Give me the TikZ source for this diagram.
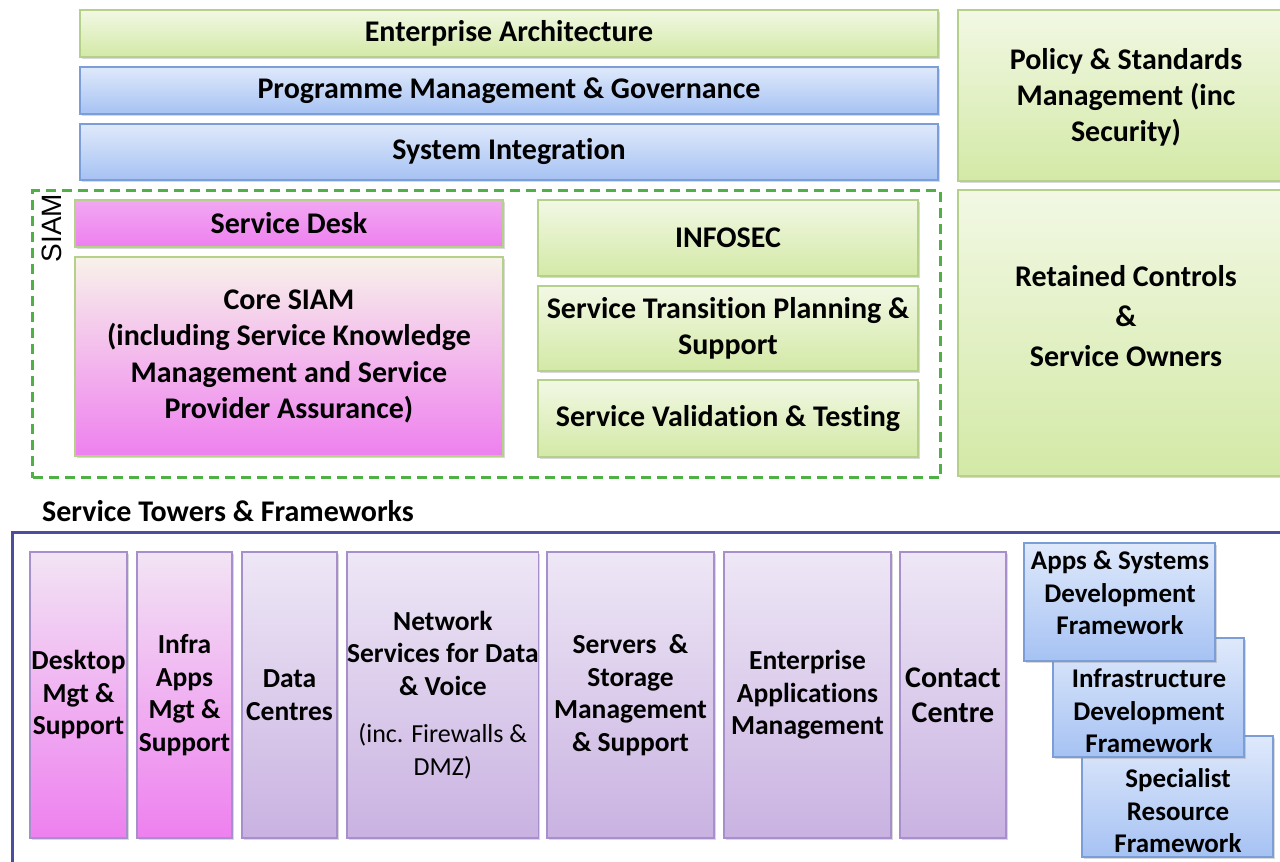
\documentclass[tikz,border=0pt]{standalone}
\usepackage{fontspec}
\setmainfont{Carlito}[Ligatures=NoCommon]
\newfontfamily\labelsans{Liberation Sans}
\usetikzlibrary{shadows}

\definecolor{greentop}{HTML}{F2F8E4}
\definecolor{greenbot}{HTML}{D3E9A6}
\definecolor{greenline}{HTML}{B5D08A}
\definecolor{bluetop}{HTML}{DFE9FB}
\definecolor{bluebot}{HTML}{A6C2F3}
\definecolor{blueline}{HTML}{7C9ED8}
\definecolor{magtop}{HTML}{F2A8F3}
\definecolor{magbot}{HTML}{EE80EF}
\definecolor{coretop}{HTML}{F8F2EA}
\definecolor{coremid}{HTML}{F097F1}
\definecolor{lavtop}{HTML}{EEE7F6}
\definecolor{lavbot}{HTML}{C9B2E1}
\definecolor{lavline}{HTML}{A78FCB}
\definecolor{towmagtop}{HTML}{F2E4F4}
\definecolor{towmagmid}{HTML}{F09AF2}
\definecolor{siamgreen}{HTML}{4FB045}
\definecolor{navy}{HTML}{4B4E9E}

\begin{document}
\begin{tikzpicture}[x=1pt,y=-1pt,
  box/.style={draw, line width=1.1pt, inner sep=0pt, outer sep=0pt,
    anchor=north west, align=center,
    font=\bfseries\fontsize{30}{36.5}\selectfont,
    drop shadow={opacity=0.3, shadow xshift=1.5pt, shadow yshift=-2pt}},
  greenbox/.style={box, draw=greenline, top color=greentop, bottom color=greenbot},
  bluebox/.style={box, draw=blueline, top color=bluetop, bottom color=bluebot},
  deskbox/.style={box, draw=greenline, top color=magtop, bottom color=magbot},
  corebox/.style={box, draw=greenline, top color=coretop, middle color=coremid, bottom color=magbot},
  towerbox/.style={box, draw=lavline, top color=lavtop, bottom color=lavbot,
    font=\bfseries\fontsize{27.5}{32.5}\selectfont},
  magtowerbox/.style={box, draw=lavline, top color=towmagtop, middle color=towmagmid, bottom color=magbot,
    font=\bfseries\fontsize{27.5}{32.5}\selectfont},
  fwbox/.style={box, draw=blueline, top color=bluetop, bottom color=bluebot},
  txt/.style={align=center, inner sep=0pt, font=\bfseries\fontsize{27}{32.5}\selectfont}
]
\useasboundingbox (0,0) rectangle (1280,862);
\clip (0,0) rectangle (1280,862);

% top bars
\node[greenbox, minimum width=858pt, minimum height=47pt] (ea) at (80,10) {Enterprise Architecture};
\node[bluebox, minimum width=858pt, minimum height=47pt] (pmg) at (80,67) {Programme Management \& Governance};
\node[bluebox, minimum width=858pt, minimum height=56pt] (si) at (80,124) {System Integration};

% right column
\node[greenbox, minimum width=340pt, minimum height=171pt] (policy) at (958,10) {};
\node[txt, font=\bfseries\fontsize{30}{36}\selectfont] (policytext) at (1126,97) {Policy \& Standards\\Management (inc\\Security)};
\node[greenbox, minimum width=340pt, minimum height=286pt] (retained) at (958,190) {};
\node[txt, font=\bfseries\fontsize{30}{40}\selectfont] (retainedtext) at (1126,316) {Retained Controls\\\&\\Service Owners};

% SIAM group
\node[draw=siamgreen, line width=3pt, dash pattern=on 10pt off 6pt, inner sep=0pt,
  anchor=north west, minimum width=908pt, minimum height=287pt] (siam) at (31,189) {};
\node[rotate=90, inner sep=0pt, font=\labelsans\fontsize{28}{30}\selectfont] (siamlabel) at (52,228) {SIAM};

\node[deskbox, minimum width=428pt, minimum height=47pt] (desk) at (75,200) {Service Desk};
\node[corebox, minimum width=428pt, minimum height=199pt] (core) at (75,257)
  {Core SIAM\\(including Service Knowledge\\Management and Service\\Provider Assurance)};
\node[greenbox, minimum width=380pt, minimum height=76pt] (infosec) at (538,200) {INFOSEC};
\node[greenbox, minimum width=380pt, minimum height=85pt] (transition) at (538,286) {Service Transition Planning \&\\Support};
\node[greenbox, minimum width=380pt, minimum height=77pt] (validation) at (538,380) {Service Validation \& Testing};

% service towers
\node[anchor=base west, inner sep=0pt, font=\bfseries\fontsize{30}{30}\selectfont] (towerstitle) at (42,521) {Service Towers \& Frameworks};
\draw[navy, line width=3pt] (12,532) rectangle (1295,880);

\node[magtowerbox, minimum width=97pt, minimum height=286pt] (desktop) at (30,552) {Desktop\\Mgt \&\\Support};
\node[magtowerbox, minimum width=95pt, minimum height=286pt] (infraapps) at (137,552) {Infra\\Apps\\Mgt \&\\Support};
\node[towerbox, minimum width=95pt, minimum height=286pt] (datacentres) at (242,552) {Data\\Centres};
\node[towerbox, minimum width=191pt, minimum height=286pt] (network) at (347,552)
  {Network\\Services for Data\\\& Voice\\[15pt]{\mdseries\fontsize{26}{34}\selectfont (inc. Firewalls \&}\\{\mdseries\fontsize{26}{34}\selectfont DMZ)}};
\node[towerbox, minimum width=167pt, minimum height=286pt] (servers) at (547,552) {Servers\ \ \&\\Storage\\Management\\\& Support};
\node[towerbox, minimum width=167pt, minimum height=286pt] (eam) at (724,552) {Enterprise\\Applications\\Management};
\node[towerbox, minimum width=106pt, minimum height=286pt, font=\bfseries\fontsize{30}{35}\selectfont] (contact) at (900,552) {Contact\\Centre};

% frameworks, stacked back to front
\node[fwbox, minimum width=191pt, minimum height=121pt] (specialist) at (1082,736) {};
\node[txt] (specialisttext) at (1178,811) {Specialist\\Resource\\Framework};
\node[fwbox, minimum width=191pt, minimum height=119pt] (infrafw) at (1053,638) {};
\node[txt] (infrafwtext) at (1149,711) {Infrastructure\\Development\\Framework};
\node[fwbox, minimum width=191pt, minimum height=118pt] (appsfw) at (1024,543) {};
\node[txt] (appsfwtext) at (1120,593) {Apps \& Systems\\Development\\Framework};
\end{tikzpicture}
\end{document}
